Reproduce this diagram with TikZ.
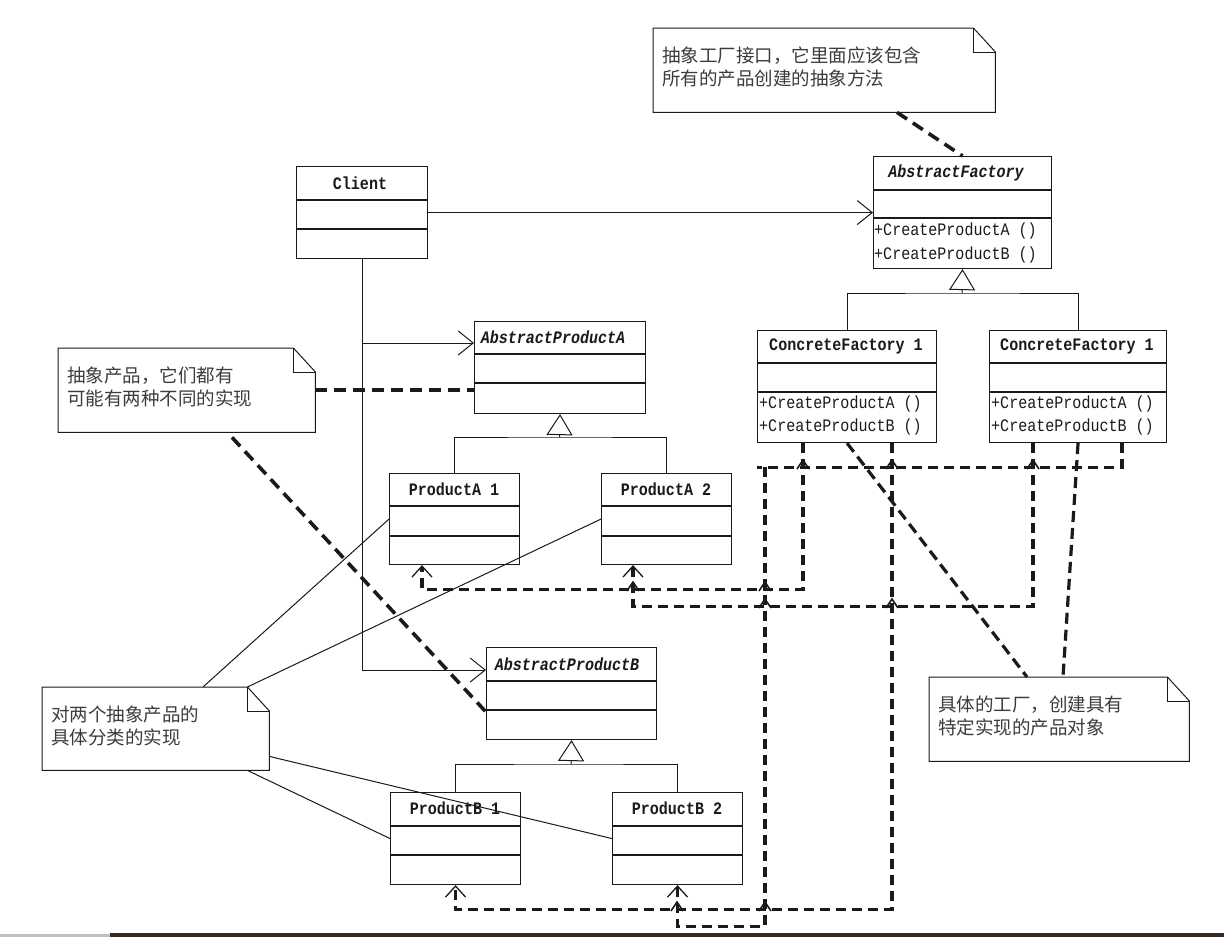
\documentclass[tikz,border=0pt]{standalone}
\usepackage{fontspec}
\setmainfont{Liberation Serif}
\setmonofont[FakeStretch=0.86]{Liberation Mono}
\newfontfamily\cjk{Noto Sans CJK SC}
\usetikzlibrary{arrows.meta,calc}
\definecolor{barbrown}{HTML}{3A2A20}
\definecolor{ink}{HTML}{1A1A1A}
\tikzset{
  clsbox/.style={draw=ink, line width=1.1pt, inner sep=0pt, anchor=north west},
  divider/.style={draw=ink, line width=1.1pt},
  ttl/.style={font=\ttfamily\bfseries\fontsize{17.5}{19}\selectfont, inner sep=0pt, text=ink},
  ttlit/.style={font=\ttfamily\bfseries\itshape\fontsize{17.5}{19}\selectfont, inner sep=0pt, text=ink},
  meth/.style={font=\ttfamily\fontsize{17.5}{19}\selectfont, inner sep=0pt, anchor=west, text=ink},
  notebox/.style={inner sep=0pt, anchor=north west},
  notetxt/.style={font=\cjk\fontsize{18.5}{23}\selectfont, align=left, inner sep=0pt, anchor=north west, text=ink!85},
  thinline/.style={draw=ink, line width=1pt},
  assoc/.style={thinline, -{Straight Barb[length=15pt,width=24pt,line width=1pt]}},
  gen/.style={thinline},
  genarrow/.style={thinline, -{Triangle[open,length=21pt,width=26pt,line width=1pt]}},
  notelink/.style={draw=ink, line width=3.6pt, dash pattern=on 12pt off 7pt},
  facnotelink/.style={draw=ink, line width=3.2pt, dash pattern=on 11pt off 6pt},
  dep/.style={draw=ink, line width=3.2pt, dash pattern=on 10pt off 6pt},
  deparrow/.style={dep, -{Straight Barb[length=11pt,width=20pt,line width=1.3pt]}},
  hopmark/.style={draw=ink, line width=1.6pt},
}
\newcommand\umlclass[7]{% name, x, y, w, h, d1, d2
  \node[clsbox, minimum width=#4pt, minimum height=#5pt] (#1) at (#2,#3) {};
  \draw[divider] ([yshift=-#6pt]#1.north west) -- ([yshift=-#6pt]#1.north east);
  \draw[divider] ([yshift=-#7pt]#1.north west) -- ([yshift=-#7pt]#1.north east);
}
\newcommand\umlnote[6]{% name, x, y, w, h, text
  \node[notebox, minimum width=#4pt, minimum height=#5pt] (#1) at (#2,#3) {};
  \draw[thinline] (#1.north west) -- ([xshift=-22pt]#1.north east) -- ([yshift=-24pt]#1.north east)
     -- (#1.south east) -- (#1.south west) -- cycle;
  \draw[thinline] ([xshift=-22pt]#1.north east) |- ([yshift=-24pt]#1.north east);
  \node[notetxt] at ([xshift=9pt,yshift=-19pt]#1.north west) {#6};
}
\newcommand\hop[2]{\draw[hopmark] (#1-6,#2+3) -- (#1,#2-6) -- (#1+6,#2+3);}
\begin{document}
\begin{tikzpicture}[x=1pt,y=-1pt]
\useasboundingbox (0,0) rectangle (1224,937);
\fill[white] (0,0) rectangle (1224,937);
\fill[barbrown] (110,933) rectangle (1224,937);
\fill[black!25] (0,934) rectangle (110,937);

% ---------- classes ----------
\umlclass{client}{296}{166}{131}{92}{34}{63}
\node[ttl] at (360,183) {Client};

\umlclass{af}{873}{156}{178}{112}{34}{62}
\node[ttlit] at (956,173) {AbstractFactory};
\node[meth] at (874,231) {+CreateProductA ()};
\node[meth] at (874,255) {+CreateProductB ()};

\umlclass{apa}{474}{321}{171}{92}{33}{62}
\node[ttlit] at (553,337) {AbstractProductA};

\umlclass{pa1}{389}{473}{130}{91}{33}{63}
\node[ttl] at (454,489) {ProductA 1};
\umlclass{pa2}{601}{473}{130}{91}{33}{63}
\node[ttl] at (666,489) {ProductA 2};

\umlclass{cf1}{757}{330}{179}{112}{33}{62}
\node[ttl] at (846,346) {ConcreteFactory 1};
\node[meth] at (759,404) {+CreateProductA ()};
\node[meth] at (759,427) {+CreateProductB ()};

\umlclass{cf2}{989}{330}{177}{112}{33}{62}
\node[ttl] at (1077,346) {ConcreteFactory 1};
\node[meth] at (991,404) {+CreateProductA ()};
\node[meth] at (991,427) {+CreateProductB ()};

\umlclass{apb}{486}{647}{170}{92}{34}{63}
\node[ttlit] at (567,664) {AbstractProductB};

\umlclass{pb1}{390}{792}{130}{92}{34}{63}
\node[ttl] at (455,808) {ProductB 1};
\umlclass{pb2}{612}{792}{130}{92}{34}{63}
\node[ttl] at (677,808) {ProductB 2};

% ---------- notes ----------
\umlnote{ntop}{653}{28}{342}{84}{抽象工厂接口，它里面应该包含\\所有的产品创建的抽象方法}
\umlnote{nabs}{58}{348}{257}{84}{抽象产品，它们都有\\可能有两种不同的实现}
\umlnote{nimpl}{42}{687}{227}{83}{对两个抽象产品的\\具体分类的实现}
\umlnote{nfac}{929}{677}{260}{84}{具体的工厂，创建具有\\特定实现的产品对象}

% ---------- associations ----------
\draw[assoc] (client.east) -- (af.west);
\draw[assoc] (client.south) |- ([yshift=-22pt]apa.north west);
\draw[assoc] (client.south) |- ([yshift=-23pt]apb.north west);

% ---------- generalisations ----------
\coordinate (hubF) at (962,293);
\coordinate (hubA) at (559.5,437);
\coordinate (hubB) at (571,764);
\draw[gen] (cf1.north) |- (hubF) -| (cf2.north);
\draw[genarrow] (hubF) -- (af.south);
\draw[gen] (pa1.north) |- (hubA) -| (pa2.north);
\draw[genarrow] (hubA) -- (apa.south);
\draw[gen] (pb1.north) |- (hubB) -| (pb2.north);
\draw[genarrow] (hubB) -- (apb.south);

% ---------- note links ----------
\draw[notelink] ([xshift=244pt]ntop.south west) -- (af.north);
\draw[notelink] (nabs.east) -- (nabs.east -| apa.west);
\draw[notelink] ([xshift=174pt,yshift=-5pt]nabs.south west) -- ([yshift=-65pt]apb.north west);
\draw[facnotelink] (cf1.south) -- ([xshift=98pt]nfac.north west);
\draw[facnotelink] (cf2.south) -- ([xshift=134pt]nfac.north west);

\draw[thinline] ([xshift=161pt]nimpl.north west) -- (pa1.west);
\draw[thinline] ([xshift=-22pt]nimpl.north east) -- (pa2.west);
\draw[thinline] ([yshift=14pt]nimpl.south east) -- (pb2.west);
\draw[thinline] ([xshift=-22pt]nimpl.south east) -- (pb1.west);

% ---------- dependencies (factories create products) ----------
\draw[deparrow] ([xshift=46pt]cf1.south west) |- ([xshift=33pt,yshift=-24pt]pa1.south west) -- ([xshift=33pt]pa1.south west);
\draw[deparrow] ([xshift=135pt]cf1.south west) |- ([yshift=-24pt]pb1.south) -- (pb1.south);
\draw[deparrow] ([xshift=44pt]cf2.south west) |- ([xshift=32pt,yshift=-41pt]pa2.south west) -- ([xshift=32pt]pa2.south west);
\draw[deparrow] ([xshift=133pt]cf2.south west) |- ([yshift=-24pt]cf1.south west) ++(8pt,0)
   |- ([yshift=-41pt]pb2.south) -- (pb2.south);

% line hops
\hop{803}{466}\hop{892}{466}\hop{1033}{466}
\hop{765}{588}\hop{633}{588}
\hop{765}{605}\hop{892}{605}
\hop{765}{908}\hop{677}{908}
\end{tikzpicture}
\end{document}
